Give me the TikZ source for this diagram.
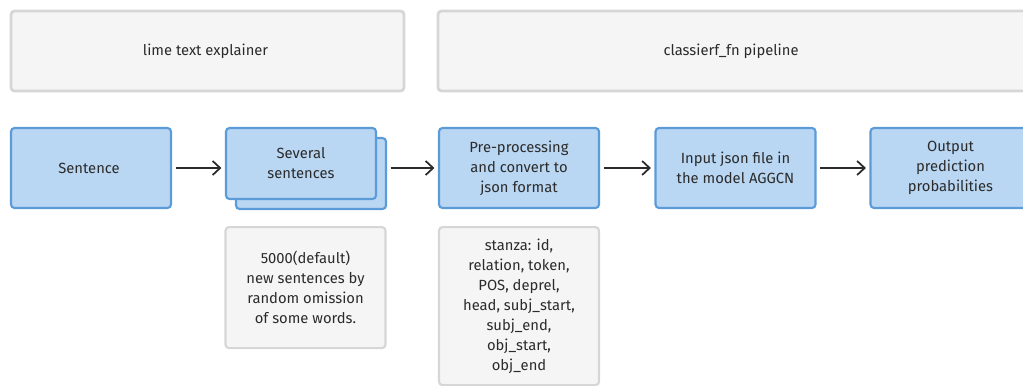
\documentclass[tikz,border=0pt]{standalone}
\usepackage{fontspec}
\setmainfont{Fira Sans}
\usepackage{xcolor}
\usepackage{tikz}
\usetikzlibrary{arrows, arrows.meta, positioning, calc}
\definecolor{boxblue}{HTML}{B9D6F2}
\definecolor{lineblue}{HTML}{5A9BD8}
\definecolor{boxgray}{HTML}{F5F5F5}
\definecolor{linegray}{HTML}{D6D6D6}
\definecolor{txtdark}{HTML}{2B2B2B}
\tikzstyle{TOPBOX}  = [draw=linegray,    % color for LINES
                     line width=1.6pt,   % control line width.
                     fill=boxgray,       % Fill-in the box.
                     rounded corners=2pt,
                     text=txtdark,
                     align=center,
                     rectangle,          % Box shape
                     minimum height=1.6cm,
                     font=\fontsize{8.4}{11.4}\selectfont]
\tikzstyle{BLUEBOX} = [draw=lineblue,    % color for LINES
                     line width=1.2pt,   % control line width.
                     fill=boxblue,       % Fill-in the box.
                     rounded corners=2pt,
                     text=txtdark,
                     align=center,
                     rectangle,          % Box shape
                     minimum width=3.2cm,
                     minimum height=1.6cm,
                     font=\fontsize{8.4}{11.4}\selectfont]
\tikzstyle{NOTEBOX} = [draw=linegray,    % color for LINES
                     line width=1.2pt,   % control line width.
                     fill=boxgray,       % Fill-in the box.
                     rounded corners=2pt,
                     text=txtdark,
                     align=center,
                     rectangle,          % Box shape
                     minimum width=3.2cm,
                     font=\fontsize{8.4}{11.4}\selectfont]
\tikzstyle{ARROW}  = [line width=1pt, draw=txtdark, -{Straight Barb[length=1.5mm, width=2.8mm]},
                     shorten >=2pt, shorten <=2pt]

\begin{document}
\begin{tikzpicture}

		% Page frame
		\useasboundingbox (0,0) rectangle (20.46,7.7);
		\clip (0,0) rectangle (20.46,7.7);
		
		
		
		% Stage headers
		\node(lime)[TOPBOX, minimum width = 7.86cm] at (4.15,6.68)
		{
			lime text explainer
		};
		\node(pipe)[TOPBOX, minimum width = 11.8cm] at (14.66,6.68)
		{
			classierf\_fn pipeline
		};
		
		
		
		
		% Main chain
		\node(sent)[BLUEBOX] at (1.82,4.34)
		{
			Sentence
		};
		\node(sevbk)[BLUEBOX, right of = sent, node distance = 4.4cm, yshift = -0.11cm,
		minimum width = 3cm, minimum height = 1.42cm]
		{
		};
		\node(sev)[BLUEBOX, right of = sent, node distance = 4.2cm, yshift = 0.09cm,
		minimum width = 3cm, minimum height = 1.42cm]
		{
			Several\\
			sentences
		};
		\node(pre)[BLUEBOX, right of = sevbk, node distance = 4.16cm, yshift = 0.11cm]
		{
			Pre-processing\\
			and convert to\\
			json format
		};
		\node(inp)[BLUEBOX, right of = pre, node distance = 4.33cm]
		{
			Input json file in\\
			the model AGGCN
		};
		\node(outp)[BLUEBOX, right of = inp, node distance = 4.3cm]
		{
			Output\\
			prediction\\
			probabilities
		};
		
		
		
		
		% Notes below
		\node(gen)[NOTEBOX, below = 0.52cm of sev, xshift = 0.09cm, minimum height = 2.42cm]
		{
			5000(default)\\
			new sentences by\\
			random omission\\
			of some words.
		};
		\node(fields)[NOTEBOX, below = 0.34cm of pre, minimum height = 3.16cm]
		{
			stanza: id,\\
			relation, token,\\
			POS, deprel,\\
			head, subj\_start,\\
			subj\_end,\\
			obj\_start,\\
			obj\_end
		};
		
		
		
		
		% Arrows along the chain
		\draw[ARROW] (sent.east) -- (sent.east -| sev.west);
		\draw[ARROW] (sevbk.east |- pre.west) -- (pre.west);
		\draw[ARROW] (pre.east) -- (inp.west);
		\draw[ARROW] (inp.east) -- (outp.west);
		
\end{tikzpicture}
\end{document}
